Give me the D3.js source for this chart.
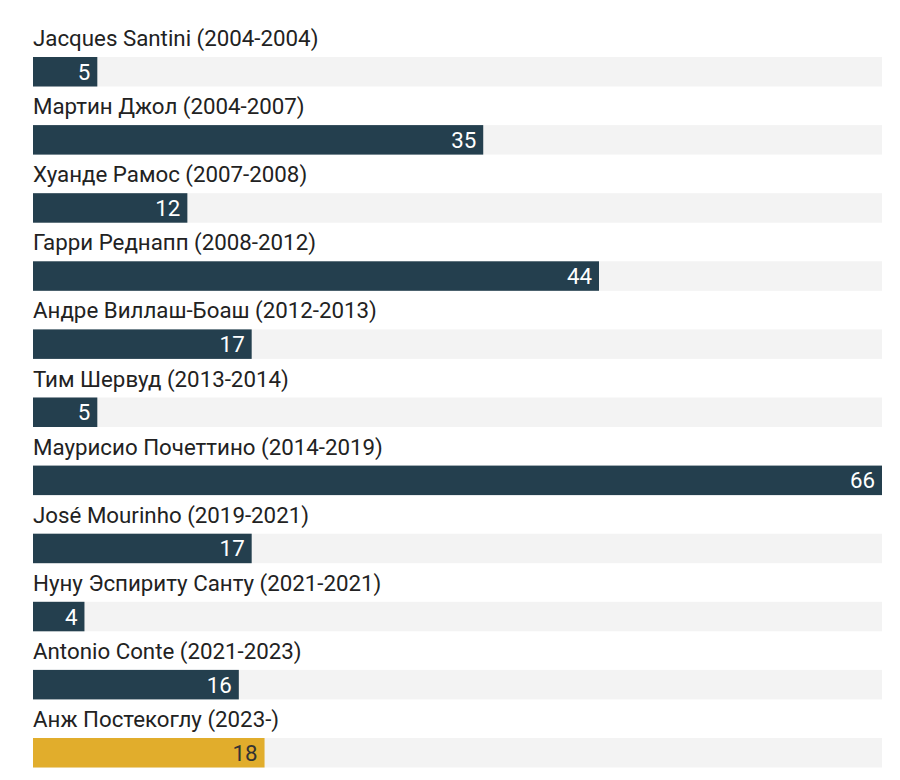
<!DOCTYPE html>
<html><head><meta charset="utf-8">
<script src="https://cdn.jsdelivr.net/npm/d3@7"></script>
<style>body{margin:0;background:#fff;font-family:Roboto,sans-serif}</style>
</head><body><svg id="c" width="900" height="780"></svg>
<script>
const names = ["Jacques Santini (2004-2004)","Мартин Джол (2004-2007)","Хуанде Рамос (2007-2008)","Гарри Реднапп (2008-2012)","Андре Виллаш-Боаш (2012-2013)","Тим Шервуд (2013-2014)","Маурисио Почеттино (2014-2019)","José Mourinho (2019-2021)","Нуну Эспириту Санту (2021-2021)","Antonio Conte (2021-2023)","Анж Постекоглу (2023-)"];
const values = [5,35,12,44,17,5,66,17,4,16,18];
const highlight = [false,false,false,false,false,false,false,false,false,false,true];

const svg = d3.select("#c");
const x = d3.scaleLinear().domain([0,66]).range([33,882]);
const y = d3.scaleBand().domain(d3.range(names.length)).range([20,20+68.1*11]).paddingInner(0).paddingOuter(0);
const barOff = 37, barH = 29.5;

const g = svg.selectAll("g.row").data(names).join("g").attr("class","row")
  .attr("transform",(d,i)=>`translate(0,${y(i)})`);
g.append("text").attr("x",33).attr("y",26).attr("font-size",22.3).attr("fill","#222").text(d=>d);
g.append("rect").attr("x",x(0)).attr("y",barOff).attr("width",x(66)-x(0)).attr("height",barH).attr("fill","#f3f3f3");
g.append("rect").attr("x",x(0)).attr("y",barOff).attr("width",(d,i)=>x(values[i])-x(0)).attr("height",barH)
  .attr("fill",(d,i)=>highlight[i]?"#e1ad2c":"#243f4e");
g.append("text").attr("x",(d,i)=>x(values[i])-7).attr("y",barOff+barH/2+8).attr("text-anchor","end")
  .attr("font-size",22.3).attr("fill",(d,i)=>highlight[i]?"#333":"#fff").text((d,i)=>values[i]);
</script></body></html>
